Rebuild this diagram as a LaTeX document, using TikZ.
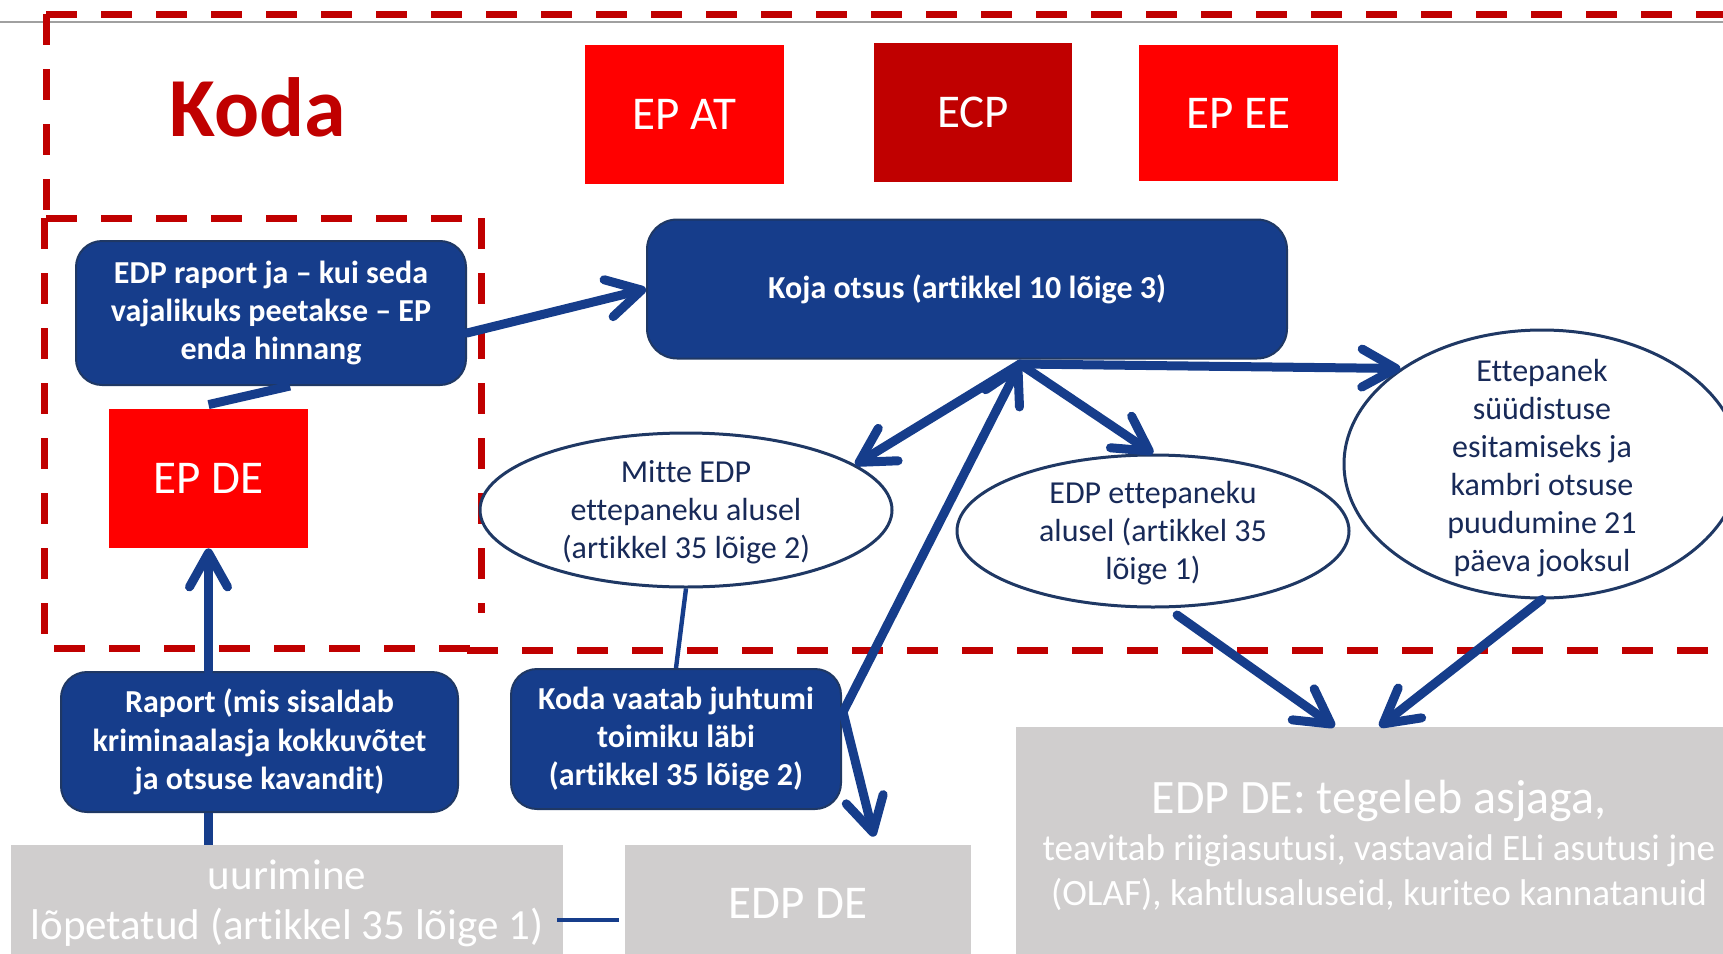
\documentclass[tikz,border=0pt]{standalone}
\usepackage{fontspec}
\setmainfont{Carlito}[Ligatures={NoCommon}]
\usetikzlibrary{arrows.meta,shapes.geometric,calc}
\definecolor{kred}{RGB}{192,0,0}
\definecolor{pred}{RGB}{255,0,0}
\definecolor{bblue}{RGB}{22,61,139}
\definecolor{bborder}{RGB}{31,56,100}
\definecolor{navy}{RGB}{24,42,88}
\definecolor{lgray}{RGB}{208,206,206}
\definecolor{topgray}{RGB}{160,160,160}
\tikzset{
  redbox/.style={fill=pred, text=white, inner sep=0, font=\fontsize{23.5}{28}\selectfont, minimum width=99.5pt, minimum height=69.5pt},
  bluebox/.style={fill=bblue, draw=bborder, line width=1pt, rounded corners=13pt, text=white, inner sep=0, align=center, font=\bfseries\fontsize{16}{19.2}\selectfont},
  ellshape/.style={ellipse, draw=bborder, line width=1.5pt, fill=white, inner sep=0},
  elltext/.style={text=navy, align=center, inner sep=0, font=\fontsize{16}{19}\selectfont},
  graybox/.style={fill=lgray, text=white, inner sep=0, align=center},
  conn/.style={draw=bblue, line width=4.5pt, line cap=round},
  arr/.style={conn, -{Straight Barb[length=17pt,width=19pt,round]}},
  thinconn/.style={draw=bblue, line width=2.2pt},
  kdash/.style={draw=kred, line width=3.5pt, dash pattern=on 15.5pt off 12pt}
}
\begin{document}
\begin{tikzpicture}[x=0.5pt,y=-0.5pt]
\useasboundingbox (0,0) rectangle (1723,953);
\clip (0,0) rectangle (1723,953);
% top gray rule
\draw[topgray, line width=1pt] (0,22) -- (1723,22);
% dashed "Koda" region
\draw[kdash] (46,14) -- (1740,14);
\draw[kdash] (46,14) -- (46,218);
\draw[kdash] (46,218) -- (481,218);
\draw[kdash] (481,218) -- (481,613);
\draw[kdash] (44,218) -- (44,648) -- (481,648);
\draw[kdash] (467,650) -- (1740,650);
% title
\node[text=kred, font=\bfseries\fontsize{42}{50}\selectfont, anchor=base, inner sep=0] (koda) at (258,136) {Koda};
% red boxes
\node[redbox] (epat) at (684.5,114.5) {EP AT};
\node[redbox, fill=kred, minimum width=99pt] (ecp) at (973,112.5) {ECP};
\node[redbox, minimum height=68pt] (epee) at (1238.5,113) {EP EE};
\node[redbox] (epde) at (208.5,478.5) {EP DE};
% blue boxes
\node[bluebox, minimum width=195pt, minimum height=72pt] (raport1) at (271,313) {EDP raport ja – kui seda\\vajalikuks peetakse – EP\\enda hinnang};
\node[bluebox, minimum width=320pt, minimum height=69.5pt, rounded corners=15pt] (koja) at (967,289) {Koja otsus (artikkel 10 lõige 3)};
\node[bluebox, minimum width=198.5pt, minimum height=70pt] (raport2) at (259.5,742) {Raport (mis sisaldab\\kriminaalasja kokkuvõtet\\ja otsuse kavandit)};
\node[bluebox, minimum width=165pt, minimum height=70pt] (vaatab) at (676,739) {Koda vaatab juhtumi\\toimiku läbi\\(artikkel 35 lõige 2)};
% ellipses
\node[ellshape, minimum width=206pt, minimum height=77pt] (mitte) at (686,510) {};
\node[elltext] (mittet) at ($(mitte.center)+(0,2)$) {Mitte EDP\\ettepaneku alusel\\(artikkel 35 lõige 2)};
\node[ellshape, minimum width=196pt, minimum height=76pt] (edp) at (1153,531) {};
\node[elltext] (edpt) at ($(edp.center)+(0,2)$) {EDP ettepaneku\\alusel (artikkel 35\\lõige 1)};
\node[ellshape, minimum width=198pt, minimum height=134pt] (ette) at (1542,464) {};
\node[elltext] (ettet) at ($(ette.center)+(0,4)$) {Ettepanek\\süüdistuse\\esitamiseks ja\\kambri otsuse\\puudumine 21\\päeva jooksul};
% gray boxes
\node[graybox, minimum width=276pt, minimum height=58pt, font=\fontsize{21.5}{25}\selectfont] (uur) at (287,903) {uurimine\\lõpetatud (artikkel 35 lõige 1)};
\node[graybox, minimum width=173pt, minimum height=58pt, font=\fontsize{23.5}{28}\selectfont] (ede) at (798,903) {EDP DE};
\node[graybox, minimum width=363pt, minimum height=121pt] (big) at (1379,848) {};
\node[text=white, anchor=base, inner sep=0, font=\fontsize{24}{28}\selectfont] (bigt1) at (1379,813) {EDP DE: tegeleb asjaga,};
\node[text=white, anchor=base, inner sep=0, font=\fontsize{18.6}{22}\selectfont] (bigt2) at (1379,860) {teavitab riigiasutusi, vastavaid ELi asutusi jne};
\node[text=white, anchor=base, inner sep=0, font=\fontsize{18.6}{22}\selectfont] (bigt3) at (1379,905) {(OLAF), kahtlusaluseid, kuriteo kannatanuid};
% junction points
\coordinate (P) at (1020,364);
\coordinate (V) at ($(vaatab.east)+(1,-27)$);
% connectors
\draw[arr] (epde.south |- raport2.north) -- (epde.south);
\draw[conn, line cap=butt] (epde.south |- raport2.south) -- (epde.south |- uur.north);
\draw[conn, line cap=butt] ($(epde.north)+(0,-4)$) -- ($(raport1.south)+(19,0)$);
\draw[arr] ($(raport1.east)+(0,20)$) -- (koja.west);
\draw[arr] (P) -- (mitte.15);
\draw[arr] (P) -- (edp.north);
\draw[arr] (P) -- (ette.146);
\draw[arr] (V) -- (P);
\draw[arr] (V) -- ($(ede.north)+(76,-8)$);
\draw[thinconn] (mitte.south) -- (vaatab.north);
\draw[thinconn] ($(uur.east)+(-6,17)$) -- ($(ede.west)+(-6,17)$);
\draw[arr] ($(edp.-74)+(2,7)$) -- ($(big.north west)+(319,0)$);
\draw[arr] (ette.south) -- ($(big.north west)+(364,0)$);
\end{tikzpicture}
\end{document}
